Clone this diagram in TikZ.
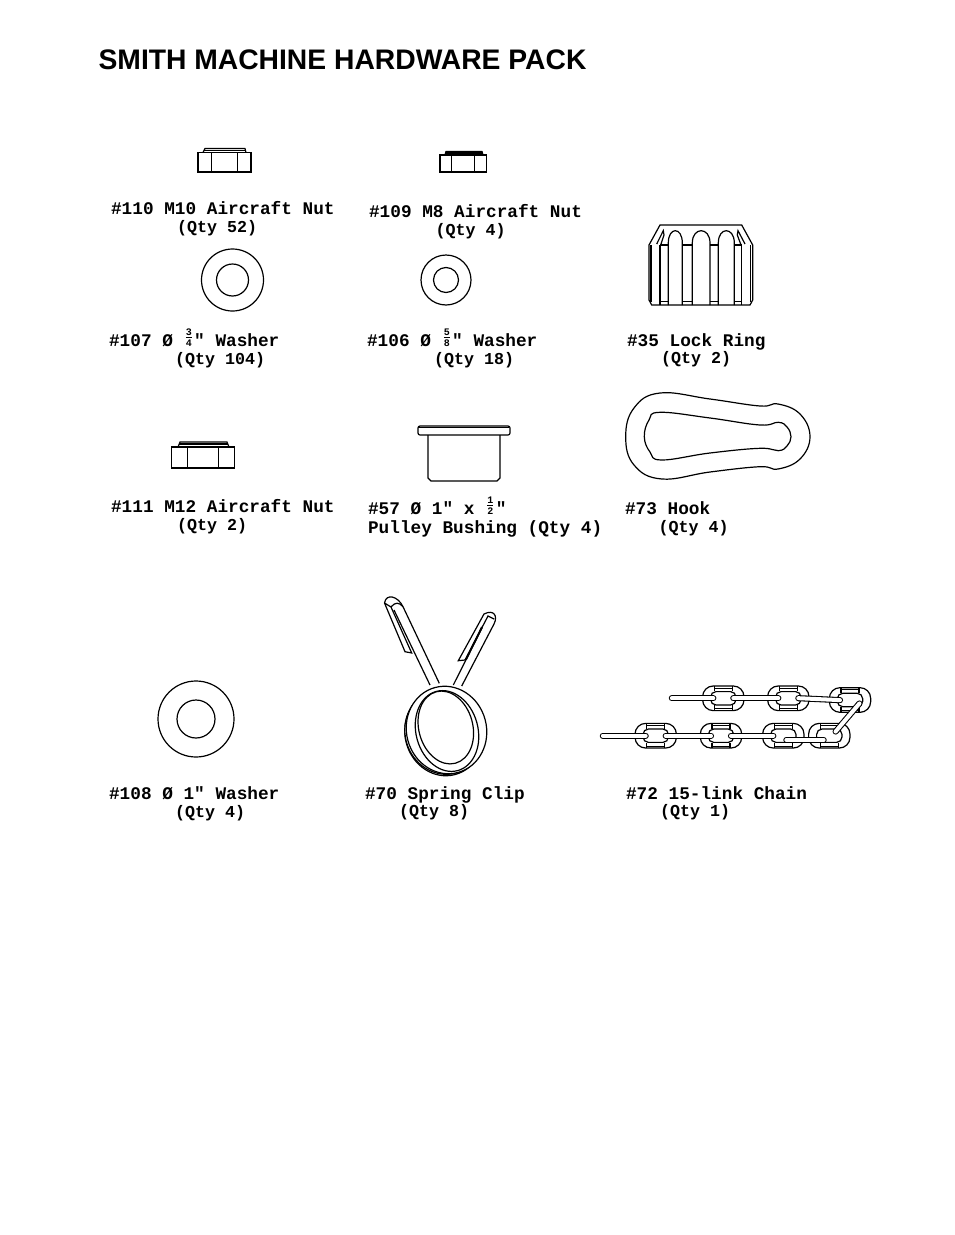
\documentclass[tikz,border=0pt]{standalone}
\usepackage{fontspec}
\setmainfont{Liberation Sans}
\setmonofont{Liberation Mono}
\newcommand{\stackfrac}[2]{\makebox[0.6em]{\raisebox{-0.1ex}{\fontsize{7.5pt}{7.5pt}\selectfont\shortstack[c]{#1\\[-2pt]\rule{0.6em}{0.6pt}\\[-1pt]#2}}}}

\begin{document}
\begin{tikzpicture}[x=0.75pt,y=-0.75pt,line width=0.9pt,
	title node/.style={anchor=base west,inner sep=0pt,font=\fontsize{21.2pt}{21.2pt}\selectfont\bfseries},
	part label/.style={anchor=base west,inner sep=0pt,font=\fontsize{13.3pt}{13.3pt}\selectfont\ttfamily\bfseries},
	qty label/.style={anchor=base west,inner sep=0pt,font=\fontsize{12.5pt}{12.5pt}\selectfont\ttfamily\bfseries},
	outer link/.style={draw,fill=white,rounded corners=8pt,minimum width=31pt,minimum height=18.5pt,inner sep=0pt,outer sep=0pt},
	inner link/.style={draw,rounded corners=4pt,minimum width=19pt,minimum height=10pt,inner sep=0pt,outer sep=0pt},
	capsule/.style={draw=black,double=white,line width=0.8pt,double distance=3pt,line cap=round,shorten >=-2pt,shorten <=-2pt}]
	
	\useasboundingbox (0,0) rectangle (954,1235);
	
	\node[title node] (title) at (98,69) {SMITH MACHINE HARDWARE PACK};
	
	\node[part label] (l110) at (110.5,214) {\#110 M10 Aircraft Nut};
	\node[qty label] (q110) at (176.5,232) {(Qty 52)};
	\node[part label] (l109) at (368.5,217) {\#109 M8 Aircraft Nut};
	\node[qty label] (q109) at (435,235) {(Qty 4)};
	\node[part label] (l107) at (108.5,346) {\#107 Ø \stackfrac{3}{4}" Washer};
	\node[qty label] (q107) at (174.5,364.5) {(Qty 104)};
	\node[part label] (l106) at (366.5,346) {\#106 Ø \stackfrac{5}{8}" Washer};
	\node[qty label] (q106) at (433.5,364.5) {(Qty 18)};
	\node[part label] (l35) at (626.5,346) {\#35 Lock Ring};
	\node[qty label] (q35) at (660.5,363.5) {(Qty 2)};
	\node[part label] (l111) at (110.5,512) {\#111 M12 Aircraft Nut};
	\node[qty label] (q111) at (176.5,530) {(Qty 2)};
	\node[part label] (l57) at (367.5,514) {\#57 Ø 1" x \stackfrac{1}{2}"};
	\node[part label] (q57) at (367.5,533) {Pulley Bushing (Qty 4)};
	\node[part label] (l73) at (624.5,514) {\#73 Hook};
	\node[qty label] (q73) at (658,532) {(Qty 4)};
	\node[part label] (l108) at (108.5,799) {\#108 Ø 1" Washer};
	\node[qty label] (q108) at (174.5,817.5) {(Qty 4)};
	\node[part label] (l70) at (364.5,799) {\#70 Spring Clip};
	\node[qty label] (q70) at (398.5,816.5) {(Qty 8)};
	\node[part label] (l72) at (625.5,799) {\#72 15-link Chain};
	\node[qty label] (q72) at (659.5,816.5) {(Qty 1)};
	
	\draw (198,152.5) rectangle (251,172);
	\draw (211.5,152.5) -- (211.5,172) (237.5,152.5) -- (237.5,172);
	\draw (203,152.5) -- (205,148.5) -- (245,148.5) -- (246,152.5);
	\draw (204,150.5) -- (245,150.5);
	
	\draw (440,155) rectangle (486.5,172);
	\draw (451.5,155) -- (451.5,172) (474.5,155) -- (474.5,172);
	\draw (445,155) -- (446,151.5) -- (482,151.5) -- (483,155);
	\draw (446,153) -- (482,153);
	
	\draw (171.5,447) rectangle (234.5,468);
	\draw (187.5,447) -- (187.5,468) (218.5,447) -- (218.5,468);
	\draw (178,447) -- (180,442) -- (227,442) -- (229,447);
	\draw (179,444) -- (228,444);
	
	\draw (232.5,280) circle (31) (232.5,280) circle (16);
	\draw (446,280) circle (25) (446,280) circle (12.5);
	\draw (196,719) circle (38) (196,719) circle (19);
	
	\draw (428,435) -- (428,478) -- (431,481) -- (497,481) -- (500,478) -- (500,435);
	\draw[rounded corners=1.5pt] (418,426) rectangle (510,435);
	\draw (419,427.5) -- (509,427.5);
	
	\draw (660,225) -- (741.7,225) -- (752.7,245) -- (752.7,300) -- (750,305) -- (651.7,305) -- (649,300) -- (649,245) -- cycle;
	\draw (651,245) -- (651,302) (750.5,245) -- (750.5,302);
	\draw (668.3,305) -- (668.3,243) .. controls (668.3,226.6) and (682.3,226.6) .. (682.3,243) -- (682.3,305);
	\draw (692.3,305) -- (692.3,243) .. controls (692.3,226.6) and (710,226.6) .. (710,243) -- (710,305);
	\draw (718.3,305) -- (718.3,243) .. controls (718.3,226.6) and (734.3,226.6) .. (734.3,243) -- (734.3,305);
	\draw (660,245) -- (660,305) (741.7,245) -- (741.7,305);
	\draw (660,245) -- (668.3,245) (660,301.7) -- (668.3,301.7);
	\draw (682.3,245) -- (692.3,245) (682.3,301.7) -- (692.3,301.7);
	\draw (710,245) -- (718.3,245) (710,301.7) -- (718.3,301.7);
	\draw (734.3,245) -- (741.7,245) (734.3,301.7) -- (741.7,301.7);
	\draw (656.7,244) -- (663.3,230.7) -- (664,235) -- (660.7,245);
	\draw (745,244) -- (738,230.7) -- (737.3,235) -- (741,245);
	
	\draw plot[smooth cycle,tension=0.7] coordinates {(625.7,436.7) (634,408) (660,393) (710,399) (760,406) (778,404) (800,414) (810,436.7) (800,459) (778,469) (760,466.7) (710,472) (661.7,479) (634,465)};
	\draw plot[smooth cycle,tension=0.7] coordinates {(644.3,436.7) (649,420) (660,412.3) (710,418) (760,425) (778.3,422.3) (787,427) (791,436.7) (787,446) (778.3,450.7) (760,448.3) (710,453) (661.7,460) (650,452)};
	
	\draw (430,685) -- (394,610);
	\draw (439.3,683.3) -- (403,606.7) .. controls (398,596) and (386,593) .. (384.5,603) -- (405,651.7) -- (411.7,653) -- (391,607) -- (384.5,603);
	\draw (391,607) .. controls (395,602) and (399,602) .. (403,606.7);
	\draw (453.3,685) -- (482,628);
	\draw (461.7,686) -- (494,624) .. controls (498,616) and (494,609) .. (484,614) -- (458.3,660.7) -- (465,660) -- (488,616) -- (494,619);
	\draw[line width=1.4pt] (466,659.5) -- (482,627);
	
	\draw[fill=white,rotate around={15:(444,733)}] (444,733) ellipse (39 and 43);
	\draw[fill=white,rotate around={15:(445,731.5)}] (445,731.5) ellipse (40 and 43);
	\draw[fill=white,rotate around={15:(446.5,730)}] (446.5,730) ellipse (40 and 44);
	\draw[rotate around={15:(447,731)}] (447,731) ellipse (31 and 41);
	\draw[fill=white,rotate around={15:(445.8,727.5)}] (445.8,727.5) ellipse (27 and 37);
	
	\node[outer link] (k1) at (723.3,698.3) {};
	\node[inner link] (n1) at (k1) {};
	\node[outer link] (k2) at (788.3,698.3) {};
	\node[inner link] (n2) at (k2) {};
	\node[outer link] (k3) at (850,700) {};
	\node[inner link] (n3) at (k3) {};
	\node[outer link] (k4) at (829.3,735.7) {};
	\node[inner link] (n4) at (k4) {};
	\node[outer link] (k5) at (783.3,735.7) {};
	\node[inner link] (n5) at (k5) {};
	\node[outer link] (k6) at (721,735.7) {};
	\node[inner link] (n6) at (k6) {};
	\node[outer link] (k7) at (655.7,735.7) {};
	\node[inner link] (n7) at (k7) {};
	
	\foreach \n in {1,...,7} {
		\draw (k\n.north) ++(-9,0) -- ++(0,5.5) ++(18,-5.5) -- ++(0,5.5);
		\draw (k\n.south) ++(-9,0) -- ++(0,-5.5) ++(18,5.5) -- ++(0,-5.5);
		\draw[line width=0.5pt] (k\n.north) ++(-9,2) -- ++(18,0);
		\draw[line width=0.5pt] (k\n.south) ++(-9,-2) -- ++(18,0);
	}
	
	\coordinate (top end) at (674.5,698.3);
	\coordinate (bottom end) at (605.5,735.7);
	\coordinate (cross start) at (789,740);
	\coordinate (cross end) at (821,740);
	\coordinate (slant start) at (837.3,729.5);
	\coordinate (slant end) at (857.7,705.5);
	
	\draw[capsule] (top end) -- (n1.west);
	\draw[capsule] (n1.east) -- (n2.west);
	\draw[capsule] (n2.east) -- (n3.west);
	\draw[capsule] (bottom end) -- (n7.west);
	\draw[capsule] (n7.east) -- (n6.west);
	\draw[capsule] (n6.east) -- (n5.west);
	\draw[capsule] (cross start) -- (cross end);
	\draw[capsule] (slant start) -- (slant end);
	
\end{tikzpicture}
\end{document}
